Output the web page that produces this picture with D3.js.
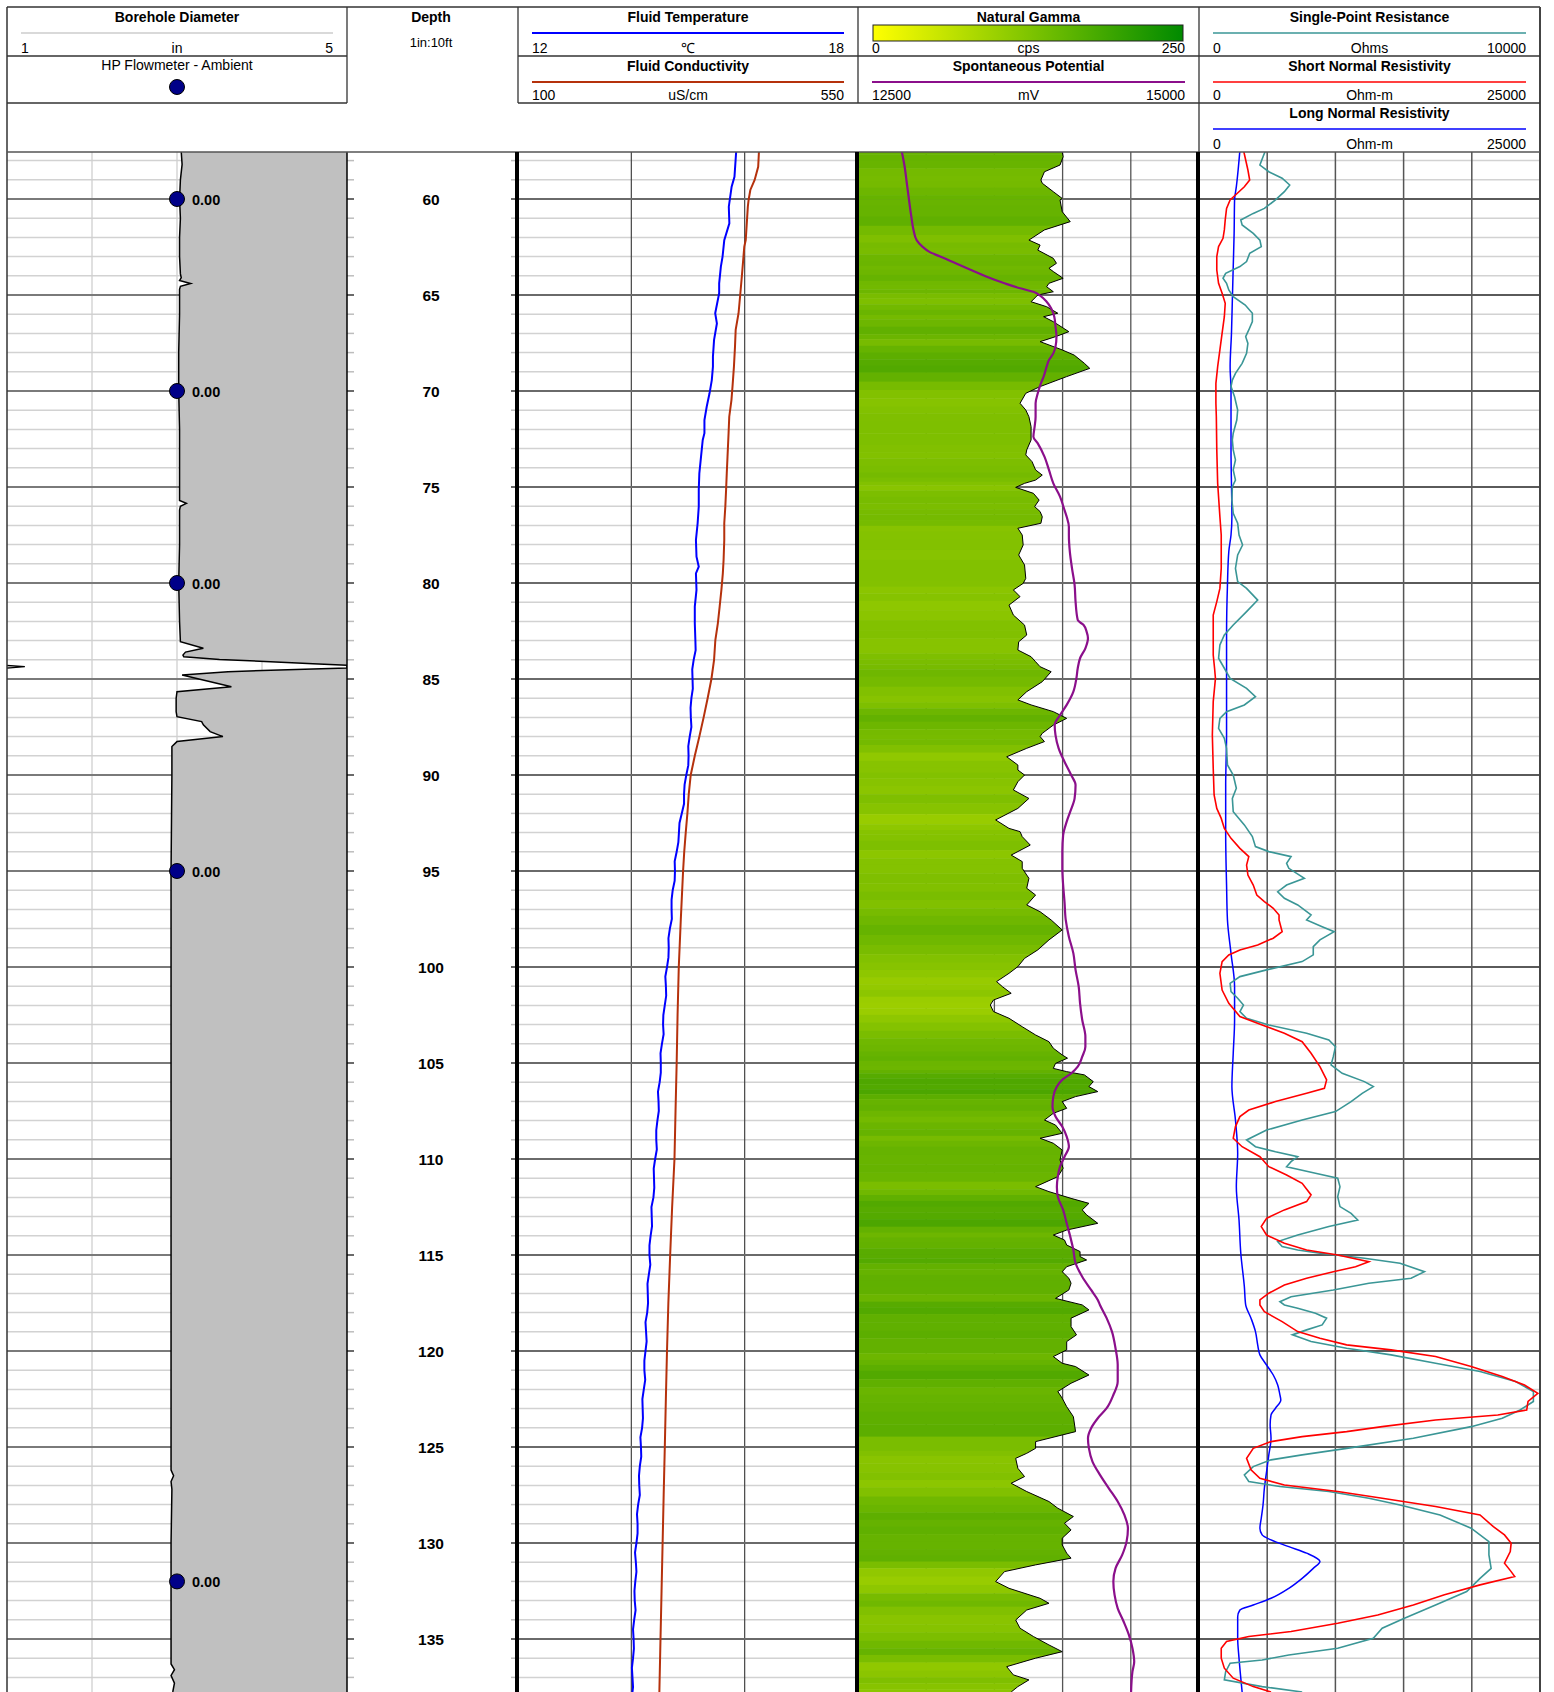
<!DOCTYPE html>
<html><head><meta charset="utf-8">
<script src="https://cdn.jsdelivr.net/npm/d3@7"></script>
<style>body{margin:0;background:#fff}svg{display:block}text{font-family:"Liberation Sans",Arial,Helvetica,sans-serif;fill:#000}</style>
</head><body><svg id="c" width="1554" height="1692"></svg>
<script>
// ---------------- DATA (depth ft, value) ----------------
const depthLabels = [60,65,70,75,80,85,90,95,100,105,110,115,120,125,130,135];
const flowDepths = [60,70,80,95,132];
const flowValues = [0,0,0,0,0];
const caliper = [[57.55,3.05],[58.2,3.06],[59.0,3.04],[60.0,3.03],[61.0,3.04],[62.0,3.03],[63.0,3.03],[63.9,3.04],[64.1,3.05],[64.25,3.03],[64.4,3.16],[64.55,3.04],[64.7,3.03],[66,3.03],[68,3.02],[70,3.02],[72,3.03],[74,3.03],[75.7,3.03],[75.85,3.11],[76.0,3.04],[76.2,3.03],[78,3.03],[80,3.02],[82,3.03],[83.06,3.04],[83.4,3.31],[83.6,3.1],[83.75,3.07],[83.84,3.08],[83.98,3.5],[84.1,4.1],[84.2,4.6],[84.29,5.0],[84.36,5.21],[84.43,5.0],[84.5,4.4],[84.62,3.6],[84.79,3.06],[85.4,3.64],[85.66,3.0],[86.0,2.99],[86.7,2.99],[86.96,3.0],[87.22,3.29],[87.39,3.31],[87.74,3.39],[88.0,3.54],[88.26,3.0],[88.52,2.94],[90,2.94],[95,2.93],[100,2.93],[110,2.93],[120,2.93],[126.2,2.93],[126.5,2.96],[126.8,2.93],[127.2,2.94],[130,2.93],[135,2.93],[136.3,2.93],[136.6,2.97],[136.9,2.93],[137.3,2.97],[137.76,2.95]];
const fluidTemp = [[57.53,15.85],[57.97,15.84],[58.84,15.82],[59.36,15.77],[60.40,15.72],[61.27,15.73],[62.14,15.64],[63.00,15.61],[63.52,15.58],[64.39,15.55],[64.91,15.55],[65.95,15.48],[66.48,15.51],[67.34,15.46],[68.21,15.44],[68.73,15.44],[69.43,15.42],[70.12,15.38],[70.82,15.33],[71.51,15.29],[72.20,15.29],[72.55,15.26],[73.42,15.23],[74.29,15.20],[75.16,15.19],[76.02,15.19],[76.89,15.17],[77.76,15.14],[78.63,15.15],[79.15,15.19],[79.50,15.14],[80.36,15.15],[81.23,15.12],[82.10,15.12],[82.97,15.13],[83.5,15.135],[84,15.10],[84.5,15.075],[85,15.08],[85.5,15.085],[86,15.06],[86.5,15.045],[87,15.05],[87.5,15.06],[88,15.03],[88.5,15.005],[89,15.01],[89.5,15.005],[90,14.97],[90.5,14.94],[91,14.93],[91.5,14.93],[92,14.89],[92.5,14.85],[93,14.84],[93.5,14.83],[94,14.80],[94.5,14.765],[95,14.77],[95.5,14.765],[96,14.73],[96.5,14.71],[97,14.71],[97.5,14.715],[98,14.68],[98.5,14.655],[99,14.66],[99.5,14.655],[100,14.63],[100.5,14.60],[101,14.61],[101.5,14.615],[102,14.59],[102.5,14.565],[103,14.56],[103.5,14.57],[104,14.54],[104.5,14.515],[105,14.52],[105.5,14.52],[106,14.50],[106.5,14.47],[107,14.48],[107.5,14.485],[108,14.46],[108.5,14.44],[109,14.44],[109.5,14.45],[110,14.42],[110.5,14.395],[111,14.40],[111.5,14.405],[112,14.39],[112.5,14.355],[113,14.36],[113.5,14.365],[114,14.34],[114.5,14.32],[115,14.32],[115.5,14.335],[116,14.31],[116.5,14.285],[117,14.29],[117.5,14.295],[118,14.28],[118.5,14.25],[119,14.26],[119.5,14.27],[120,14.25],[120.5,14.23],[121,14.23],[121.5,14.245],[122,14.22],[122.5,14.195],[123,14.20],[123.5,14.205],[124,14.19],[124.5,14.16],[125,14.17],[125.5,14.175],[126,14.15],[126.5,14.135],[127,14.14],[127.5,14.15],[128,14.12],[128.5,14.10],[129,14.11],[129.5,14.11],[130,14.09],[130.5,14.065],[131,14.08],[131.5,14.09],[132,14.07],[132.5,14.055],[133,14.06],[133.5,14.075],[134,14.05],[134.5,14.03],[135,14.04],[135.5,14.045],[136,14.03],[136.5,14.01],[137,14.02],[137.5,14.03],[137.76,14.02]];
const fluidCond = [[57.53,418.9],[58.32,417.9],[58.66,415.6],[59.01,413.2],[59.53,407.5],[60.05,405.2],[60.40,404.2],[61.27,402.8],[62.14,401.4],[62.48,399.5],[63.87,396.6],[64.91,394.3],[65.95,391.9],[66.82,388.1],[67.69,387.2],[68.73,385.8],[69.77,383.9],[70.47,382.5],[71.34,379.6],[72.20,378.7],[73.42,377.3],[74.29,376.3],[75.16,375.4],[76.02,374.4],[76.89,373.0],[77.76,373.0],[78.80,372.1],[79.50,371.1],[80.36,369.2],[81.23,366.9],[82.10,364.5],[82.97,361.2],[84,359.5],[85,356],[86,351],[87,345.7],[88,340],[88.5,337],[89,334],[90,328.6],[91,326],[92,324.2],[93,322],[94,320],[95,318.5],[97.5,315.5],[100,312.8],[102.5,311.2],[105,310],[107.5,308.5],[110,307.1],[112.5,304],[115,301.4],[117.5,299],[120,297.2],[122.5,295.7],[125,294.3],[127.5,292.8],[130,291.4],[132.5,290],[135,288.6],[137.76,287.1]];
const gamma = [[57.53,149.7],[57.80,150.4],[58.23,148.1],[58.58,136.7],[59.01,134.1],[59.18,135.1],[59.62,143.2],[59.97,149.7],[60.05,148.1],[60.66,149.7],[61.18,155.6],[61.61,136.7],[62.14,125.3],[62.40,133.5],[62.66,131.8],[63.09,143.2],[63.35,145.5],[63.61,140.0],[63.78,143.2],[64.13,150.4],[64.39,140.0],[64.57,138.3],[64.83,143.2],[65.00,131.8],[65.35,126.9],[65.61,138.3],[65.95,146.5],[66.13,136.1],[66.39,143.2],[66.91,154.6],[67.17,144.8],[67.43,133.5],[67.86,149.7],[68.13,158.5],[68.56,166.0],[68.82,169.9],[69.25,153.0],[69.77,133.5],[70.12,123.0],[70.64,118.8],[70.99,123.0],[71.34,125.3],[71.86,126.9],[72.55,126.9],[73.07,123.7],[73.33,123.0],[73.68,127.6],[74.11,130.2],[74.38,135.1],[74.64,130.2],[74.81,122.1],[75.02,115.6],[75.33,128.6],[75.68,132.8],[76.02,129.5],[76.28,133.5],[76.55,135.1],[76.89,134.1],[77.15,117.2],[77.50,120.4],[78.02,121.1],[78.54,117.8],[79.06,122.1],[79.76,123.0],[80.02,121.1],[80.36,113.9],[80.71,118.8],[81.15,110.7],[81.67,113.9],[82.19,122.1],[82.71,123.7],[83.06,117.8],[83.49,117.2],[83.84,126.9],[84.10,130.2],[84.36,133.5],[84.62,141.6],[85.14,135.1],[85.66,123.7],[86.09,117.2],[86.35,126.9],[86.70,143.2],[87.05,153.0],[87.40,143.2],[87.83,135.1],[88.00,133.5],[88.26,136.7],[88.61,123.7],[89.05,109.0],[89.48,117.2],[89.74,117.2],[90.00,122.1],[90.35,117.2],[90.78,113.9],[91.22,125.3],[91.74,117.2],[92.34,100.9],[92.78,110.7],[92.95,118.8],[93.21,120.4],[93.65,126.3],[94.17,112.3],[94.51,120.4],[94.86,120.4],[95.38,125.3],[95.90,123.7],[96.25,130.2],[96.77,123.7],[97.12,133.5],[97.55,141.6],[98.07,149.7],[98.59,140.0],[99.11,131.8],[99.55,122.1],[99.98,117.2],[100.33,110.7],[100.76,101.6],[101.02,105.8],[101.37,112.3],[101.72,99.3],[101.98,97.0],[102.32,99.3],[102.67,110.7],[103.11,120.4],[103.54,130.2],[103.89,140.0],[104.23,143.2],[104.58,149.7],[104.75,153.6],[105.02,144.8],[105.28,143.2],[105.45,153.0],[105.62,166.0],[105.97,172.5],[106.23,169.3],[106.49,175.8],[106.75,159.5],[107.01,149.7],[107.36,153.0],[107.62,143.2],[107.97,136.7],[108.23,144.8],[108.66,149.7],[108.92,133.5],[109.18,143.2],[109.53,149.7],[110.05,148.1],[110.48,150.4],[110.92,146.5],[111.44,130.2],[111.70,140.0],[112.05,156.2],[112.31,169.3],[112.65,164.4],[112.91,167.6],[113.35,175.8],[113.70,153.0],[113.96,143.2],[114.22,151.4],[114.48,153.0],[114.82,162.8],[115.08,162.8],[115.26,167.6],[115.61,153.0],[115.87,149.7],[116.21,154.6],[116.47,156.2],[116.82,154.6],[117.26,144.8],[117.60,164.4],[117.86,169.3],[118.29,156.2],[118.73,156.2],[119.16,160.2],[119.51,153.0],[119.94,153.0],[120.29,143.2],[120.64,149.7],[120.81,159.5],[121.25,169.3],[121.68,156.2],[122.11,146.5],[122.46,149.7],[122.90,153.0],[123.42,157.9],[124.20,159.5],[124.72,130.2],[125.07,130.2],[125.33,123.7],[125.59,115.6],[126.11,117.2],[126.54,122.1],[126.89,112.3],[127.32,123.7],[127.84,140.0],[128.19,146.5],[128.62,157.9],[128.97,151.4],[129.32,156.2],[129.75,149.7],[130.10,149.7],[130.53,153.0],[130.79,156.2],[131.14,130.2],[131.49,107.4],[132.01,100.9],[132.36,110.7],[132.88,133.5],[133.14,140.0],[133.49,123.7],[134.01,115.6],[134.44,118.8],[134.87,128.6],[135.31,140.0],[135.66,149.7],[136.00,130.2],[136.44,109.0],[136.87,113.9],[137.13,125.3],[137.48,117.2],[137.76,112.3]];
const spontPot = [[57.45,12819],[58.32,12842],[59.18,12858],[60.05,12874],[60.92,12891],[61.61,12907],[62.14,12930],[62.48,12972],[62.74,13021],[63.00,13102],[63.35,13216],[63.70,13330],[64.05,13444],[64.39,13574],[64.65,13688],[64.83,13786],[65.03,13835],[65.35,13883],[65.69,13916],[66.13,13939],[66.65,13948],[67.17,13955],[67.69,13948],[68.04,13932],[68.39,13900],[68.73,13883],[69.25,13861],[69.60,13841],[70.12,13818],[70.64,13802],[71.34,13802],[71.86,13795],[72.38,13786],[72.73,13818],[73.42,13867],[74.11,13900],[74.81,13932],[75.50,13981],[76.20,14014],[76.55,14030],[77.07,14046],[77.50,14046],[78.37,14053],[79.24,14069],[80.10,14088],[80.97,14095],[81.93,14111],[82.19,14154],[82.53,14176],[82.88,14186],[83.40,14167],[83.92,14128],[84.44,14111],[84.97,14101],[85.66,14079],[86.35,14030],[86.88,13981],[87.40,13942],[87.92,13948],[88.61,13971],[89.31,14014],[90.00,14063],[90.52,14095],[91.22,14088],[91.91,14056],[92.43,14030],[93.13,14004],[93.99,13998],[94.86,13998],[95.73,14004],[96.60,14014],[97.55,14023],[98.42,14046],[99.29,14079],[100.15,14095],[101.02,14118],[101.89,14128],[102.76,14144],[103.63,14167],[104.15,14167],[104.67,14144],[105.19,14111],[105.54,14063],[105.88,13997],[106.23,13958],[106.75,13932],[107.27,13926],[107.79,13948],[108.31,13997],[108.83,14030],[109.36,14046],[109.88,14014],[110.40,13981],[110.92,13965],[111.44,13958],[111.96,13965],[112.65,14004],[113.35,14030],[114.04,14056],[114.74,14079],[115.43,14095],[116.13,14144],[116.82,14209],[117.34,14258],[117.60,14274],[118.29,14323],[118.99,14362],[119.86,14388],[120.72,14404],[121.59,14404],[122.29,14372],[122.98,14323],[123.50,14258],[124.02,14209],[124.54,14186],[125.07,14193],[125.76,14219],[126.45,14274],[127.15,14339],[127.84,14404],[128.54,14453],[129.23,14479],[129.93,14469],[130.62,14437],[131.32,14388],[132.01,14372],[132.70,14381],[133.40,14404],[134.09,14447],[134.79,14486],[135.48,14512],[136.18,14525],[136.70,14512],[137.76,14502]];
const singlePoint = [[57.45,1956],[57.80,1878],[58.23,1786],[58.58,2047],[58.92,2438],[59.27,2660],[59.62,2504],[60.05,2243],[60.49,1917],[60.75,1591],[61.09,1226],[61.35,1265],[61.79,1591],[62.14,1786],[62.48,1826],[62.83,1487],[63.26,1395],[63.52,1200],[63.87,782],[64.13,704],[64.39,808],[64.74,874],[65.09,1004],[65.52,1356],[65.95,1565],[66.39,1565],[66.82,1460],[67.17,1369],[67.52,1434],[68.04,1395],[68.56,1265],[69.08,1069],[69.43,978],[69.77,939],[70.30,1043],[70.99,1134],[71.51,1108],[72.20,1004],[72.55,978],[73.07,1004],[73.59,1069],[74.11,1004],[74.64,1069],[74.98,978],[75.68,965],[76.37,1004],[76.89,1134],[77.50,1174],[78.02,1278],[78.54,1134],[79.24,1069],[79.93,1134],[80.28,1395],[80.89,1721],[81.49,1395],[82.19,1004],[82.71,743],[83.23,613],[83.92,574],[84.44,743],[84.97,913],[85.49,1395],[85.92,1656],[86.35,1330],[86.70,808],[87.05,613],[87.57,574],[88.09,743],[88.61,808],[89.48,835],[90.00,1004],[90.69,1095],[91.22,978],[91.91,1004],[92.60,1330],[93.21,1565],[93.73,1656],[93.99,2047],[94.25,2699],[94.60,2569],[94.86,2634],[95.38,3090],[95.73,2569],[96.08,2308],[96.42,2504],[96.77,2895],[97.29,3286],[97.55,3156],[97.90,3612],[98.16,3964],[98.59,3547],[98.94,3351],[99.37,3351],[99.72,3025],[100.15,1982],[100.50,1200],[100.85,913],[101.28,939],[101.63,1134],[101.98,1304],[102.32,1200],[102.67,1395],[103.02,2047],[103.45,3156],[103.80,3808],[104.15,4003],[104.67,3938],[105.10,3873],[105.54,4199],[105.97,4851],[106.23,5112],[106.58,4786],[107.01,4460],[107.53,4003],[107.97,3025],[108.49,1982],[109.01,1395],[109.36,1656],[109.62,2243],[109.88,2895],[110.14,2699],[110.40,2569],[110.74,3416],[111.00,4068],[111.44,4134],[111.96,4068],[112.48,4134],[112.83,4460],[113.18,4655],[113.52,3808],[113.96,2895],[114.30,2308],[114.56,2438],[114.74,2895],[114.91,3547],[115.17,4851],[115.43,5894],[115.87,6611],[116.21,6220],[116.47,4981],[116.82,3938],[117.17,2699],[117.43,2373],[117.60,2504],[117.77,2895],[118.03,3416],[118.29,3742],[118.64,3612],[118.90,3156],[119.16,2738],[119.51,3286],[119.86,4329],[120.20,5633],[120.64,6937],[121.07,8241],[121.59,9284],[122.11,9806],[122.63,9806],[123.07,9415],[123.50,8893],[123.94,7980],[124.54,6285],[125.07,4329],[125.41,3025],[125.67,2112],[126.02,1591],[126.45,1330],[126.80,1460],[127.06,2373],[127.32,3808],[127.67,4981],[128.02,5894],[128.54,7068],[129.23,7980],[129.93,8502],[130.62,8502],[131.32,8567],[131.84,8241],[132.53,7850],[133.23,6937],[133.92,6024],[134.44,5372],[134.96,5112],[135.48,4068],[135.83,2634],[136.09,1852],[136.26,913],[136.70,782],[137.13,743],[137.48,1852],[137.76,3025]];
const shortNormal = [[57.45,3260],[57.97,3423],[58.49,3586],[59.01,3716],[59.36,3325],[59.79,2673],[60.05,2282],[60.49,2021],[61.09,1923],[61.61,1858],[62.05,1760],[62.48,1434],[63.00,1304],[63.70,1304],[64.39,1434],[64.91,1695],[65.43,1923],[66.13,1858],[66.99,1695],[67.86,1532],[68.73,1369],[69.60,1239],[70.64,1239],[71.34,1271],[73.07,1304],[74.81,1369],[76.55,1532],[77.50,1630],[79.24,1630],[80.28,1532],[80.97,1304],[81.67,1043],[82.71,1043],[83.75,1043],[84.44,1141],[84.97,1206],[86.18,1043],[87.92,978],[89.65,1043],[91.04,1108],[91.74,1304],[92.26,1630],[92.78,1858],[93.30,2347],[93.82,2999],[94.25,3651],[94.69,3488],[95.21,3586],[95.73,3977],[96.25,4238],[96.60,4792],[96.94,5444],[97.29,5868],[97.55,5868],[98.16,6096],[98.50,5444],[98.85,4303],[99.11,2999],[99.37,2184],[99.72,1695],[100.33,1532],[101.20,1695],[101.89,2184],[102.58,2999],[103.02,4629],[103.45,6259],[103.89,7563],[104.49,8215],[105.19,8867],[105.88,9356],[106.32,9193],[106.58,7889],[107.01,5607],[107.45,3651],[107.79,2999],[108.31,2673],[108.92,2510],[109.36,3162],[109.88,4466],[110.40,5118],[110.83,6422],[111.27,7563],[111.87,8215],[112.22,7889],[112.65,6259],[113.09,4955],[113.52,4564],[113.96,4955],[114.39,6259],[114.74,7889],[115.00,10171],[115.35,12453],[115.61,11475],[115.87,9845],[116.21,7889],[116.56,6259],[116.99,5118],[117.34,4466],[117.60,4466],[117.95,4792],[118.47,6096],[118.99,7237],[119.34,8867],[119.68,10823],[119.94,14083],[120.29,17343],[120.81,19951],[121.33,22233],[121.77,23863],[122.20,24841],[122.63,24124],[123.07,24026],[123.33,21907],[123.59,17343],[123.94,13431],[124.20,10823],[124.46,7563],[124.72,5281],[125.07,3977],[125.59,3488],[126.19,3814],[126.63,4466],[126.98,6259],[127.32,10171],[127.67,13431],[128.10,17343],[128.54,20603],[129.15,21581],[129.58,22396],[130.01,22885],[130.45,22820],[131.05,22396],[131.49,22885],[131.75,23146],[132.18,20603],[132.70,17995],[133.23,15713],[133.75,13105],[134.18,10171],[134.61,6748],[134.87,3651],[135.13,2021],[135.48,1630],[136.00,1630],[136.52,1858],[137.04,2510],[137.48,3977],[137.76,5281]];
const longNormal = [[57.45,2999],[58.49,2869],[59.36,2738],[60.05,2608],[61.79,2575],[63.52,2510],[65.26,2445],[67.00,2380],[68.73,2282],[69.95,2347],[73.07,2347],[76.55,2412],[77.50,2347],[78.37,2184],[80.10,2086],[82.71,2021],[85.31,2021],[87.92,2021],[90.52,1956],[93.13,1956],[95.73,2021],[97.55,2086],[99.29,2347],[101.02,2608],[102.76,2608],[104.49,2510],[106.23,2412],[107.97,2673],[109.70,2836],[111.44,2738],[113.18,2934],[114.91,3064],[116.65,3325],[117.60,3423],[118.29,3814],[118.99,4140],[119.68,4303],[120.20,4466],[120.73,4955],[121.25,5444],[121.77,5770],[122.29,5933],[122.55,5998],[122.98,5607],[123.33,5281],[123.85,5216],[124.54,5281],[125.41,5118],[126.28,4955],[127.15,4792],[128.02,4694],[128.71,4564],[129.23,4466],[129.58,4629],[129.84,5281],[130.19,6585],[130.53,7889],[130.97,8867],[131.32,8378],[131.84,7563],[132.36,6585],[132.88,5281],[133.23,3977],[133.49,2999],[133.84,2836],[134.96,2836],[136.00,2934],[137.04,3064],[137.76,3162]];

// ---------------- LAYOUT ----------------
const W = 1554, H = 1692;
const T = {bh:[7,347], dp:[347,518], fl:[518,858], gm:[858,1199], rs:[1199,1540]};
const HT = 7, R1 = 56, R2 = 103, PT = 152;
const rowTops = [HT,R1,R2], rowBots = [R1,R2,PT];
const svg = d3.select('#c');
const y = d3.scaleLinear().domain([60,135]).range([199,1639]);
const dMin = y.invert(PT), dMax = y.invert(H);

const xCal = d3.scaleLinear().domain([1,5]).range(T.bh);
const xFlow = d3.scaleLinear().domain([-1,1]).range(T.bh);
const xTemp = d3.scaleLinear().domain([12,18]).range(T.fl);
const xCond = d3.scaleLinear().domain([100,550]).range(T.fl);
const xGam = d3.scaleLinear().domain([0,250]).range(T.gm);
const xSP = d3.scaleLinear().domain([12500,15000]).range(T.gm);
const xSPR = d3.scaleLinear().domain([0,10000]).range(T.rs);
const xSN = d3.scaleLinear().domain([0,25000]).range(T.rs);
const xLN = d3.scaleLinear().domain([0,25000]).range(T.rs);
const gColor = d3.scaleLinear().domain([0,250]).range(['#ffff00','#008000']);

const defs = svg.append('defs');
function clip(id, tr){
  defs.append('clipPath').attr('id',id).append('rect')
    .attr('x',tr[0]).attr('y',PT).attr('width',tr[1]-tr[0]).attr('height',H-PT);
  return 'url(#'+id+')';
}
const grad = defs.append('linearGradient').attr('id','gg');
grad.append('stop').attr('offset','0%').attr('stop-color','#ffff00');
grad.append('stop').attr('offset','100%').attr('stop-color','#008a00');

// ---------------- GRID ----------------
const feet = d3.range(Math.ceil(dMin), Math.floor(dMax)+1);
const grid = svg.append('g');
[T.bh,T.fl,T.gm,T.rs].forEach(tr=>{
  grid.append('g').selectAll('line').data(feet.filter(d=>d%5)).join('line')
    .attr('x1',tr[0]).attr('x2',tr[1]).attr('y1',d=>y(d)).attr('y2',d=>y(d))
    .attr('stroke','#d2d2d2').attr('stroke-width',1.5);
});
const vgrid = [[xCal,[2,3,4],'#cfcfcf',1.3],[xTemp,[14,16],'#444',1.2],[xGam,[50,100,150,200],'#555',1.3],[xSN,[5000,10000,15000,20000],'#555',1.5]];
vgrid.forEach(([sc,vals,col,w])=>{
  grid.append('g').selectAll('line').data(vals).join('line')
    .attr('x1',d=>sc(d)).attr('x2',d=>sc(d)).attr('y1',PT).attr('y2',H)
    .attr('stroke',col).attr('stroke-width',w);
});
[[T.bh,'#7a7a7a'],[T.fl,'#6a6a6a'],[T.gm,'#6a6a6a'],[T.rs,'#5a5a5a']].forEach(([tr,c])=>{
  grid.append('g').selectAll('line').data(feet.filter(d=>d%5===0)).join('line')
    .attr('x1',tr[0]).attr('x2',tr[1]).attr('y1',d=>y(d)).attr('y2',d=>y(d))
    .attr('stroke',c).attr('stroke-width',2);
});

// ---------------- BOREHOLE TRACK ----------------
const gBh = svg.append('g').attr('clip-path', clip('cbh',T.bh));
const calC = v=>Math.min(v,5);
gBh.append('path').datum(caliper)
  .attr('d', d3.area().y(d=>y(d[0])).x0(d=>xCal(calC(d[1]))).x1(T.bh[1]))
  .attr('fill','#c0c0c0');
gBh.append('path').datum(caliper)
  .attr('d', d3.line().y(d=>y(d[0])).x(d=>xCal(calC(d[1]))))
  .attr('fill','none').attr('stroke','#000').attr('stroke-width',1.5);
const wrapPts = caliper.filter(d=>d[1]>=5).map(d=>[d[0], d[1]-4]);
gBh.append('path').datum(wrapPts)
  .attr('d', d3.line().y(d=>y(d[0])).x(d=>xCal(d[1])))
  .attr('fill','#c0c0c0').attr('stroke','#000').attr('stroke-width',1.3);
const flow = flowDepths.map((d,i)=>[d,flowValues[i]]);
gBh.selectAll('circle.fm').data(flow).join('circle')
  .attr('cx',d=>xFlow(d[1])).attr('cy',d=>y(d[0])).attr('r',7.5)
  .attr('fill','#000088').attr('stroke','#000').attr('stroke-width',1);
gBh.selectAll('text.fm').data(flow).join('text')
  .attr('x',d=>xFlow(d[1])+15).attr('y',d=>y(d[0])+5.5)
  .attr('font-size',14.5).attr('font-weight','bold').text(d=>d[1].toFixed(2));

// ---------------- DEPTH TRACK ----------------
const gDp = svg.append('g');
['L','R'].forEach(side=>{
  gDp.append('g').selectAll('line').data(feet).join('line')
    .attr('x1', side==='L'?T.dp[0]:T.dp[1]-7).attr('x2', side==='L'?T.dp[0]+7:T.dp[1])
    .attr('y1',d=>y(d)).attr('y2',d=>y(d))
    .attr('stroke',d=>d%5?'#bdbdbd':'#6a6a6a').attr('stroke-width',d=>d%5?1.5:2);
});
const dcx = 431;
gDp.selectAll('text').data(depthLabels).join('text')
  .attr('x',dcx).attr('y',d=>y(d)+5.5).attr('text-anchor','middle')
  .attr('font-size',15.5).attr('font-weight','bold').text(d=>d);

// ---------------- FLUID TRACK ----------------
const gFl = svg.append('g').attr('clip-path', clip('cfl',T.fl));
gFl.append('path').datum(fluidCond).attr('d',d3.line().y(d=>y(d[0])).x(d=>xCond(d[1])))
  .attr('fill','none').attr('stroke','#b5310c').attr('stroke-width',2);
gFl.append('path').datum(fluidTemp).attr('d',d3.line().y(d=>y(d[0])).x(d=>xTemp(d[1])))
  .attr('fill','none').attr('stroke','#0000ff').attr('stroke-width',2);

// ---------------- GAMMA TRACK ----------------
const gGm = svg.append('g').attr('clip-path', clip('cgm',T.gm));
defs.append('clipPath').attr('id','garea').append('path').datum(gamma)
  .attr('d', d3.area().y(d=>y(d[0])).x0(T.gm[0]).x1(d=>xGam(d[1])));
const bands = gamma.map((d,i)=>{
  const a = i===0? dMin : (gamma[i-1][0]+d[0])/2;
  const b = i===gamma.length-1? dMax : (d[0]+gamma[i+1][0])/2;
  return {a,b,v:d[1]};
});
gGm.append('g').attr('clip-path','url(#garea)').selectAll('rect').data(bands).join('rect')
  .attr('x',T.gm[0]).attr('width',T.gm[1]-T.gm[0])
  .attr('y',d=>y(d.a)).attr('height',d=>y(d.b)-y(d.a)+0.5)
  .attr('fill',d=>gColor(d.v));
gGm.append('path').datum(gamma).attr('d',d3.line().y(d=>y(d[0])).x(d=>xGam(d[1])))
  .attr('fill','none').attr('stroke','#000').attr('stroke-width',1);
gGm.append('path').datum(spontPot).attr('d',d3.line().curve(d3.curveMonotoneY).y(d=>y(d[0])).x(d=>xSP(d[1])))
  .attr('fill','none').attr('stroke','#8b0f8b').attr('stroke-width',2.2);

// ---------------- RESISTIVITY TRACK ----------------
const gRs = svg.append('g').attr('clip-path', clip('crs',T.rs));
gRs.append('path').datum(longNormal).attr('d',d3.line().curve(d3.curveMonotoneY).y(d=>y(d[0])).x(d=>xLN(d[1])))
  .attr('fill','none').attr('stroke','#0000ff').attr('stroke-width',1.5);
gRs.append('path').datum(singlePoint).attr('d',d3.line().y(d=>y(d[0])).x(d=>xSPR(d[1])))
  .attr('fill','none').attr('stroke','#3a9696').attr('stroke-width',1.6);
gRs.append('path').datum(shortNormal).attr('d',d3.line().y(d=>y(d[0])).x(d=>xSN(d[1])))
  .attr('fill','none').attr('stroke','#ff0000').attr('stroke-width',1.6);

// ---------------- FRAME ----------------
const fr = svg.append('g').attr('fill','none');
function L(x1,y1,x2,y2,w,c){fr.append('line').attr('x1',x1).attr('y1',y1).attr('x2',x2).attr('y2',y2).attr('stroke-width',w||1.3).attr('stroke',c||'#333');}
L(T.bh[0],HT,T.rs[1],HT,1.5);
L(T.bh[0],HT,T.bh[0],H,1.5);
L(T.bh[1],HT,T.bh[1],R2,1.3); L(T.bh[1],PT,T.bh[1],H,1.5,'#000');
L(T.rs[1],HT,T.rs[1],H,2,'#444');
L(T.bh[0],R1,T.bh[1],R1); L(T.bh[0],R2,T.bh[1],R2);
L(T.fl[0],R1,T.rs[1],R1); L(T.fl[0],R2,T.rs[1],R2);
L(T.bh[0],PT,T.rs[1],PT,1.6,'#555');
[T.fl[0],T.gm[0],T.rs[0]].forEach(x=>{ L(x,HT,x,x===T.rs[0]?PT:R2,1.3); L(x-1,PT,x-1,H,4,'#000'); });

// ---------------- HEADER TEXT ----------------
const hd = svg.append('g');
function header(tr, row, title, color, lo, unit, hi, opts){
  const top = rowTops[row], bot = rowBots[row];
  const cx = (tr[0]+tr[1])/2;
  hd.append('text').attr('x',cx).attr('y',top+15).attr('text-anchor','middle')
    .attr('font-size',14).attr('font-weight','bold').text(title);
  if(opts==='bar'){
    hd.append('rect').attr('x',tr[0]+15).attr('y',top+18).attr('width',tr[1]-tr[0]-31).attr('height',16)
      .attr('fill','url(#gg)').attr('stroke','#222').attr('stroke-width',1);
  } else {
    hd.append('line').attr('x1',tr[0]+14).attr('x2',tr[1]-14).attr('y1',top+26).attr('y2',top+26)
      .attr('stroke',color).attr('stroke-width',opts==='thin'?1.3:2);
  }
  const ly = bot-3;
  hd.append('text').attr('x',tr[0]+14).attr('y',ly).attr('font-size',14).text(lo);
  hd.append('text').attr('x',cx).attr('y',ly).attr('text-anchor','middle').attr('font-size',14).text(unit);
  hd.append('text').attr('x',tr[1]-14).attr('y',ly).attr('text-anchor','end').attr('font-size',14).text(hi);
}
header(T.bh,0,'Borehole Diameter','#cccccc','1','in','5','thin');
header(T.fl,0,'Fluid Temperature','#0000ff','12','\u2103','18');
header(T.fl,1,'Fluid Conductivity','#b5310c','100','uS/cm','550');
header(T.gm,0,'Natural Gamma',null,'0','cps','250','bar');
header(T.gm,1,'Spontaneous Potential','#8b0f8b','12500','mV','15000');
header(T.rs,0,'Single-Point Resistance','#3a9696','0','Ohms','10000','thin');
header(T.rs,1,'Short Normal Resistivity','#ff0000','0','Ohm-m','25000','thin');
header(T.rs,2,'Long Normal Resistivity','#0000ff','0','Ohm-m','25000','thin');
hd.append('text').attr('x',dcx).attr('y',HT+15).attr('text-anchor','middle').attr('font-size',14).attr('font-weight','bold').text('Depth');
hd.append('text').attr('x',dcx).attr('y',HT+40).attr('text-anchor','middle').attr('font-size',13).text('1in:10ft');
hd.append('text').attr('x',(T.bh[0]+T.bh[1])/2).attr('y',R1+14).attr('text-anchor','middle').attr('font-size',14).text('HP Flowmeter - Ambient');
hd.append('circle').attr('cx',xFlow(0)).attr('cy',R1+31).attr('r',7.5).attr('fill','#000088').attr('stroke','#000');
</script></body></html>
